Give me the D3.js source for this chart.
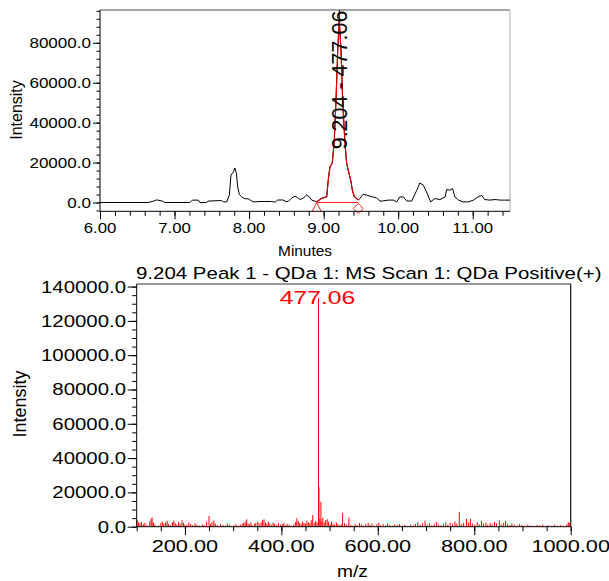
<!DOCTYPE html>
<html><head><meta charset="utf-8">
<script src="https://cdn.jsdelivr.net/npm/d3@7"></script>
<style>body{margin:0;background:#fff} svg{display:block} text{font-family:Arial,"Liberation Sans",sans-serif;fill:#000}</style>
</head><body><svg id="c" width="609" height="581"></svg>
<script>
// ---------- DATA ----------
const chromTime = [6.00,6.648,6.715,6.76,6.805,6.85,6.87,7.207,7.238,7.32,7.34,7.43,7.45,7.63,7.66,7.70,7.735,7.757,7.79,7.81,7.83,7.847,7.87,7.90,7.935,7.99,8.035,8.07,8.146,8.30,8.35,8.38,8.45,8.495,8.525,8.57,8.615,8.65,8.68,8.73,8.77,8.81,8.84,8.88,8.907,8.974,9.041,9.062,9.085,9.116,9.143,9.166,9.189,9.21,9.233,9.255,9.286,9.309,9.34,9.363,9.385,9.412,9.465,9.488,9.53,9.577,9.62,9.666,9.71,9.756,9.80,9.867,9.935,9.98,10.02,10.07,10.114,10.18,10.25,10.29,10.337,10.38,10.436,10.49,10.56,10.63,10.65,10.695,10.73,10.76,10.81,10.87,10.94,11.01,11.07,11.12,11.16,11.23,11.30,11.37,11.43,11.5];
const chromIntensity = [0,0,700,1300,1000,500,0,0,1200,1200,0,0,700,1000,300,300,3700,13700,15300,17300,14500,7800,4000,2800,2000,1800,700,300,500,500,200,1200,1300,500,500,2200,3200,2500,1500,2300,3700,2800,1200,700,400,2100,2900,11250,17900,19600,31250,51250,76250,91250,76250,51250,29600,19600,14600,11250,6250,2900,1250,2100,4200,3700,3200,2700,2300,700,800,1200,1200,300,2800,2800,800,700,6200,9800,8700,5300,300,2000,1500,2800,6500,6200,7000,2800,1200,300,300,1200,2800,3600,1500,1200,1500,1200,1200,1200];
const peakStart = 8.907, peakEnd = 9.465, apexTime = 9.21;
const peakLabel = "9.204 - 477.06";
const topYTicks = [0,20000,40000,60000,80000];
const topXTicks = [6,7,8,9,10,11];
const topXTitle = "Minutes", yTitle = "Intensity";

const msMz = [101,104,107,110,114,117,121,127,130,132,135,138,146,150,153,156,160,163,166,170,174,177,180,183,187,190,194,197,200,204,208,212,216,221,225,230,236,240,245,250,253,256,260,263,267,274,279,284,288,292,296,302,306,311,315,319,322,325,328,331,334,337,340,344,347,351,354,358,361,364,367,370,373,376,380,383,386,390,394,398,402,405,408,412,416,420,425,429,432,435,438,441,444,447,450,453,456,459,462,465,468,471,474,477,478,480,482,484,486,489,492,495,498,501,504,507,510,514,517,521,524,527,531,535,540,544,548,553,557,562,566,570,575,580,584,588,593,598,602,606,611,616,620,625,630,635,640,645,650,656,662,668,673,678,683,688,693,698,702,707,712,717,722,726,731,736,741,745,750,755,760,764,769,773,778,784,788,792,796,801,806,810,815,819,824,828,833,837,842,846,852,856,861,865,869,874,878,883,888,894,899,905,911,917,924,930,936,942,947,953,959,966,972,979,985,992,995,998];
const msIntensity = [3800,2600,1900,2800,1500,2200,900,3200,4600,5400,2400,1200,700,2000,3000,1800,2600,3400,1500,900,2600,3600,2000,1200,2800,1700,3800,2200,1300,1000,2400,1600,900,2000,1200,700,1400,900,2800,6200,1500,2700,3600,1800,900,1500,1100,600,1800,1200,500,900,1400,600,1200,1700,2200,2900,4300,1900,1300,2500,700,1600,2200,3000,1800,2600,3800,4300,2400,1500,2900,1900,1100,2400,1600,900,2000,1200,1500,2200,900,1700,1200,600,1200,2700,4900,3300,2200,1500,3000,2300,1700,3500,2600,1900,3800,6800,2100,3300,2500,133500,23000,4500,14600,3200,5200,2400,3900,4300,2900,1400,3000,1800,1200,2600,1500,900,1400,8000,2000,1200,5200,1000,600,1500,900,2100,1300,700,1600,2200,1000,1700,600,1400,2400,800,1500,700,1900,1100,600,1200,900,1500,700,1100,500,1300,800,1600,2600,1000,1900,3600,1200,2100,900,1400,2800,1200,800,1600,2500,1000,2300,1400,3000,1800,8700,1500,2200,4600,2400,4600,1800,1200,2800,1500,3300,1900,2400,1200,2100,1500,2700,1900,3600,1300,2300,3500,1500,900,2000,1200,700,1500,900,600,1300,800,500,1000,700,1300,500,900,600,1200,700,900,500,1400,2600,2200];
const baseMz = 477, basePeakLabel = "477.06";
const specTitle = "9.204 Peak 1 - QDa 1: MS Scan 1: QDa Positive(+)";
const botYTicks = [0,20000,40000,60000,80000,100000,120000,140000];
const botXTicks = [200,400,600,800,1000];
const botXTitle = "m/z";

// ---------- LAYOUT ----------
const svg = d3.select("#c");
const T = {l:100, r:510, t:10, b:211.3};
const B = {l:136.7, r:570.7, t:284, b:526.7};
const x1 = d3.scaleLinear([6, 11.5], [T.l, T.r]);
const y1 = d3.scaleLinear([-4400, 96400], [T.b, T.t]);
const x2 = d3.scaleLinear([100, 1000], [B.l, B.r]);
const y2 = d3.scaleLinear([0, 141500], [B.b, B.t]);

function stext(g, str, x, y, size, sx, anchor, color){
  return g.append("text").text(str)
    .attr("transform", `translate(${x},${y}) scale(${sx},1)`)
    .attr("font-size", size).attr("text-anchor", anchor||"start")
    .style("fill", color||"#000");
}
function rtext(g, str, x, y, size, color){
  return g.append("text").text(str)
    .attr("transform", `translate(${x},${y}) rotate(-90)`)
    .attr("font-size", size).attr("text-anchor", "middle")
    .style("fill", color||"#000");
}
function ticksAxis(g, axis){ g.call(axis); g.select(".domain").remove(); g.selectAll("text").remove(); g.selectAll("line").attr("stroke","#000"); }

// ---------- TOP: chromatogram ----------
const gt = svg.append("g");
svg.append("defs").append("clipPath").attr("id","clipT").append("rect")
  .attr("x",T.l).attr("y",T.t).attr("width",T.r-T.l).attr("height",T.b-T.t);
gt.append("line").attr("x1",T.l).attr("x2",T.r).attr("y1",T.t).attr("y2",T.t).attr("stroke","#8a8a8a").attr("stroke-width",1.6);
gt.append("line").attr("x1",T.r).attr("x2",T.r).attr("y1",T.t).attr("y2",T.b).attr("stroke","#c4c4c4").attr("stroke-width",1.4);

const chrom = chromTime.map((t,i)=>({t, v:chromIntensity[i]}));
const line1 = d3.line().x(d=>x1(d.t)).y(d=>y1(d.v));
const gp = gt.append("g").attr("clip-path","url(#clipT)");
gp.append("path").datum(chrom).attr("d",line1).attr("fill","none").attr("stroke","#000").attr("stroke-width",1);
gp.append("line").attr("x1",x1(apexTime)).attr("x2",x1(apexTime)).attr("y1",T.t).attr("y2",y1(91250)).attr("stroke","#000").attr("stroke-width",1);
const pk = chrom.filter(d=>d.t>=peakStart && d.t<=peakEnd);
gp.append("path").datum(pk).attr("d",line1).attr("fill","none").attr("stroke","#e00000").attr("stroke-width",1.2);
gt.append("line").attr("x1",x1(peakStart)).attr("x2",x1(peakEnd)).attr("y1",y1(0)).attr("y2",y1(0)).attr("stroke","#ff2020").attr("stroke-width",1);
const xs = x1(peakStart), y0 = y1(0);
gt.append("path").attr("d",`M${xs-4.5},${y0+9}L${xs},${y0}L${xs+4.5},${y0+9}`).attr("fill","none").attr("stroke","#ff2020");
const xe = x1(peakEnd);
gt.append("path").attr("d",`M${xe-5},${y0+6}L${xe},${y0+1}L${xe+5},${y0+6}L${xe},${y0+11}Z`).attr("fill","none").attr("stroke","#ff2020");

gt.append("line").attr("x1",T.l).attr("x2",T.l).attr("y1",T.t).attr("y2",T.b).attr("stroke","#000");
gt.append("line").attr("x1",T.l).attr("x2",T.r).attr("y1",T.b).attr("y2",T.b).attr("stroke","#000");
ticksAxis(gt.append("g").attr("transform",`translate(${T.l},0)`), d3.axisLeft(y1).tickValues(d3.range(-4000,96001,4000)).tickSize(3.5));
ticksAxis(gt.append("g").attr("transform",`translate(${T.l},0)`), d3.axisLeft(y1).tickValues(topYTicks).tickSize(7));
ticksAxis(gt.append("g").attr("transform",`translate(0,${T.b})`), d3.axisBottom(x1).tickValues(d3.range(0,28).map(i=>6+i*0.2)).tickSize(4.5));
ticksAxis(gt.append("g").attr("transform",`translate(0,${T.b})`), d3.axisBottom(x1).tickValues(topXTicks).tickSize(8));
topYTicks.forEach(v=>stext(gt, d3.format(".1f")(v), 91, y1(v)+5.5, 15.5, 1.1, "end"));
topXTicks.forEach(v=>stext(gt, d3.format(".2f")(v), x1(v), 233, 15, 1.12, "middle"));
stext(gt, topXTitle, 305, 256, 14, 1.1, "middle");
rtext(gt, yTitle, 22, 110, 16);
rtext(gt, peakLabel, 346.5, 80, 21.5);

// ---------- BOTTOM: spectrum ----------
const gb = svg.append("g");
gb.append("line").attr("x1",B.l).attr("x2",B.r).attr("y1",B.t).attr("y2",B.t).attr("stroke","#333").attr("stroke-width",1.2);
gb.append("line").attr("x1",B.r).attr("x2",B.r).attr("y1",B.t).attr("y2",B.b).attr("stroke","#111").attr("stroke-width",1.2);
const ms = msMz.map((m,i)=>({m, v:msIntensity[i]}));
gb.selectAll("line.bar").data(ms).join("line").attr("class","bar")
  .attr("x1",d=>x2(d.m)).attr("x2",d=>x2(d.m)).attr("y1",B.b).attr("y2",d=>y2(d.v))
  .attr("stroke","#ff0000").attr("stroke-width",1);
gb.append("line").attr("x1",B.l).attr("x2",B.l).attr("y1",B.t).attr("y2",B.b).attr("stroke","#000");
gb.append("line").attr("x1",B.l).attr("x2",B.r).attr("y1",B.b).attr("y2",B.b).attr("stroke","#000");
ticksAxis(gb.append("g").attr("transform",`translate(${B.l},0)`), d3.axisLeft(y2).tickValues(d3.range(0,140001,5000)).tickSize(4.5));
ticksAxis(gb.append("g").attr("transform",`translate(${B.l},0)`), d3.axisLeft(y2).tickValues(botYTicks).tickSize(9));
ticksAxis(gb.append("g").attr("transform",`translate(0,${B.b})`), d3.axisBottom(x2).tickValues(d3.range(100,1001,50)).tickSize(4.5));
ticksAxis(gb.append("g").attr("transform",`translate(0,${B.b})`), d3.axisBottom(x2).tickValues(botXTicks).tickSize(8.5));
botYTicks.forEach(v=>stext(gb, d3.format(".1f")(v), 126, y2(v)+6, 17, 1.2, "end"));
botXTicks.forEach(v=>stext(gb, d3.format(".2f")(v), x2(v), 551.5, 17, 1.28, "middle"));
stext(gb, botXTitle, 352.5, 577, 16, 1.2, "middle");
rtext(gb, yTitle, 26, 404, 18);
stext(gb, specTitle, 136, 278.5, 16.5, 1.24, "start");
stext(gb, basePeakLabel, x2(baseMz)-1, 303.5, 19, 1.3, "middle", "#ff0000");
</script></body></html>
